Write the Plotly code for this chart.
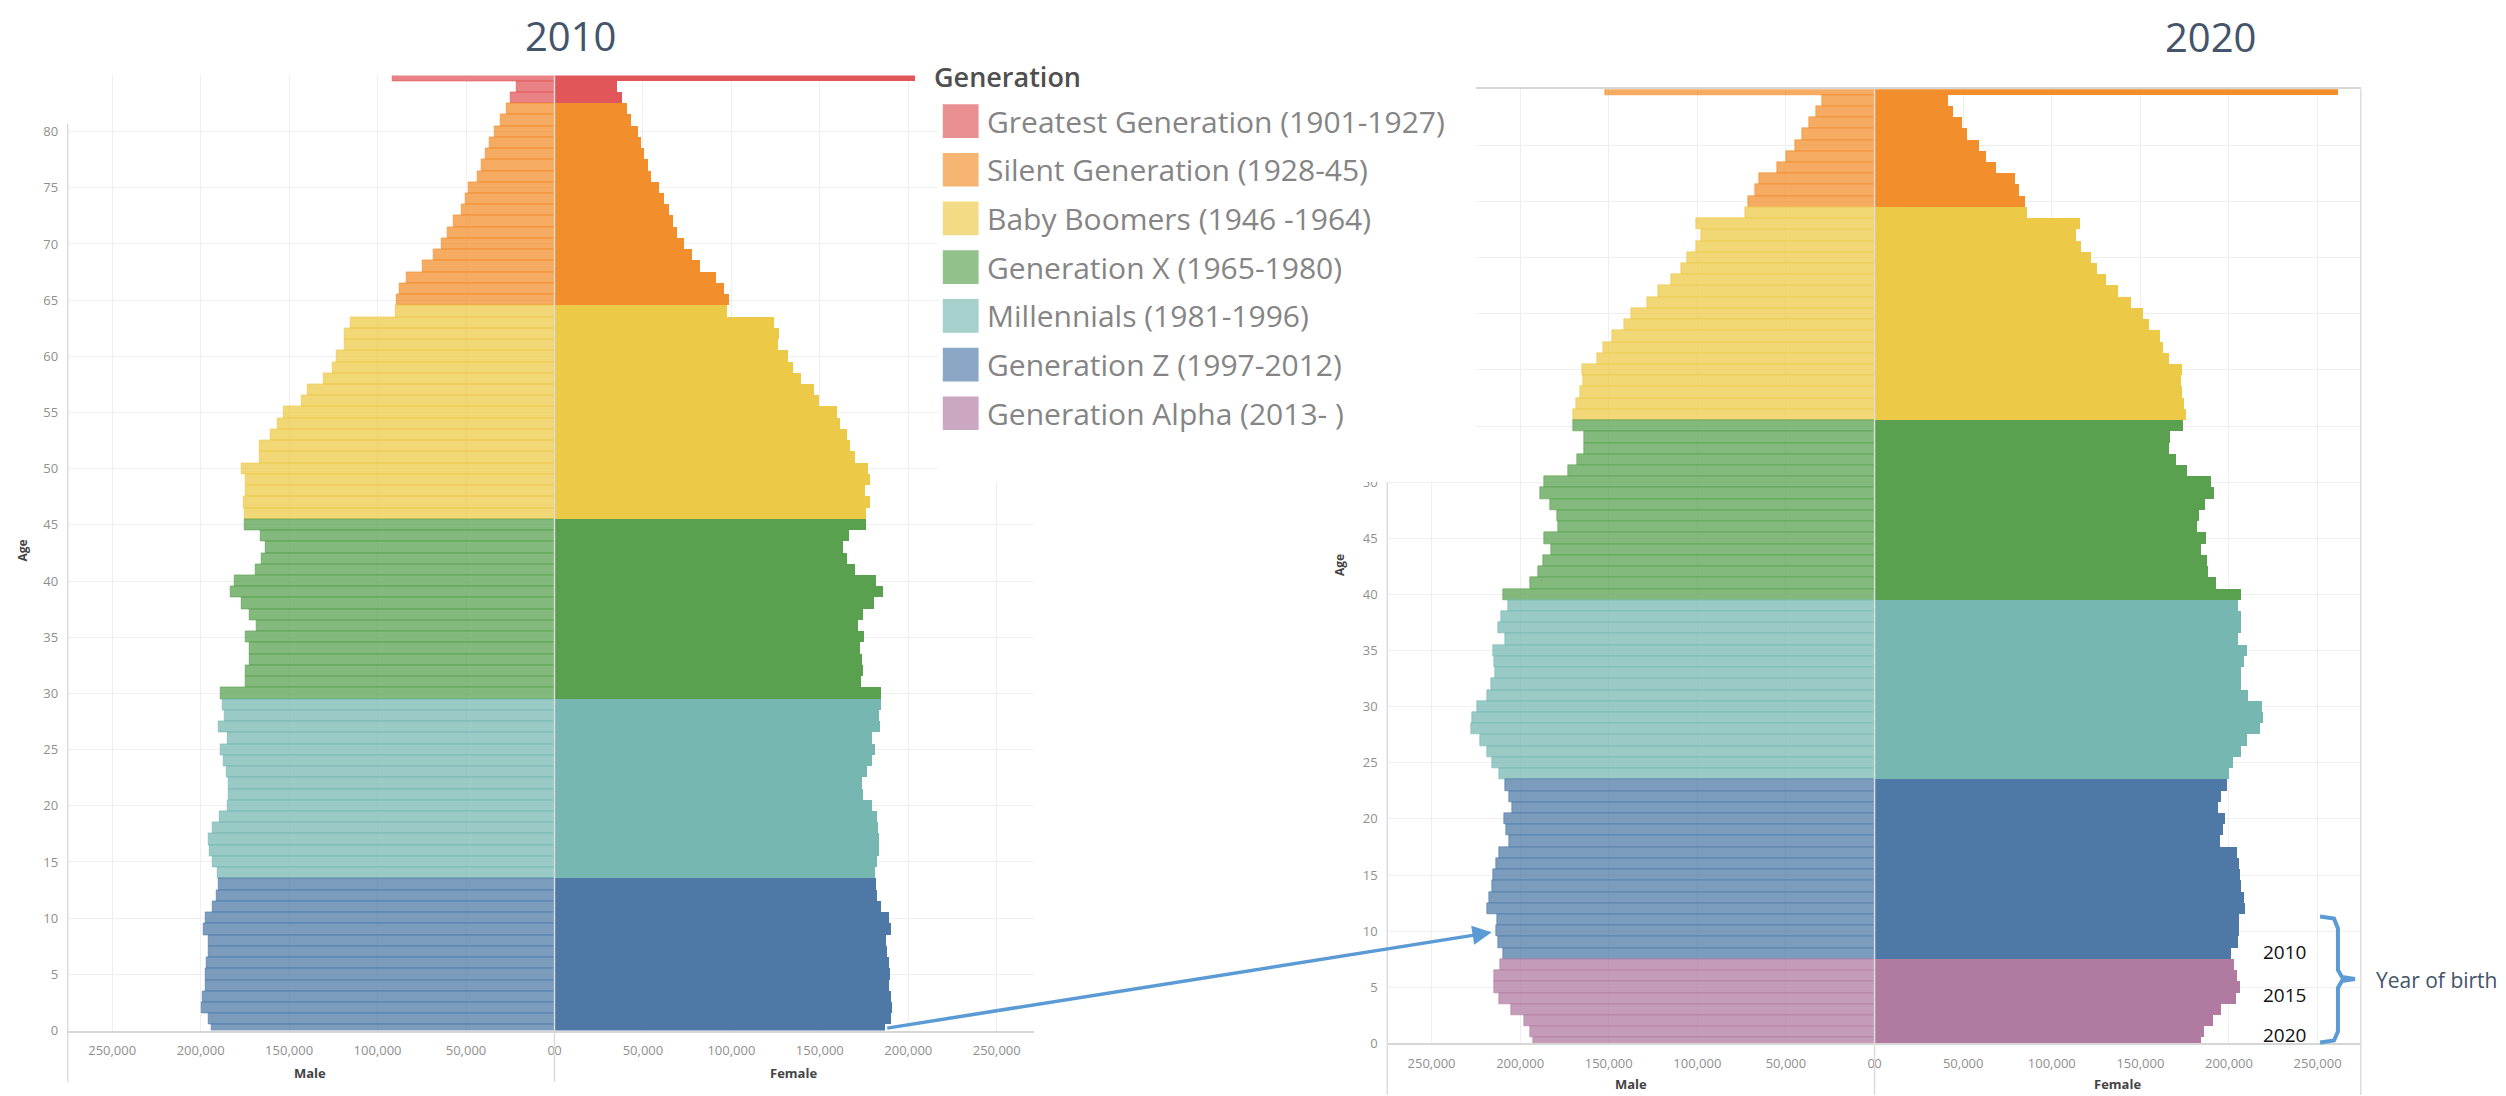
import plotly.graph_objects as go

W, H = 2506, 1096

# ---- data ----
AGES = list(range(0, 86))

MALE_2010 = [193700, 195200, 199300, 198900, 197000, 197400, 196700, 195200, 195600, 198200,
             197000, 193000, 191100, 190000, 190300, 193000, 194800, 195600, 193000, 189200,
             184800, 184400, 184400, 185500, 187000, 188500, 184800, 189600, 186600, 187400,
             188500, 174700, 174300, 172500, 172100, 174300, 168400, 172100, 176900, 182900,
             180700, 169100, 165400, 163200, 166100, 175100, 175100, 175800, 174300, 174700,
             176900, 166900, 166900, 160600, 156500, 153100, 142700, 139300, 130400, 125200,
             123300, 118500, 118500, 115100, 89800, 89400, 87500, 83400, 74500, 68500,
             63700, 60300, 57000, 52500, 50300, 48400, 43200, 41000, 39100, 36500,
             33900, 30200, 26800, 25000, 21600, 91300]
FEMALE_2010 = [187000, 190400, 191100, 190700, 189600, 190000, 189200, 188100, 187400, 190700,
               189200, 185100, 182500, 182200, 181400, 182500, 183600, 183600, 183300, 182500,
               179500, 174700, 174000, 176900, 179500, 181400, 179500, 184400, 184000, 185100,
               185100, 173600, 174700, 174000, 172800, 175100, 172100, 174700, 180700, 185900,
               182200, 170200, 165400, 163500, 166500, 176600, 176600, 178400, 175800, 178400,
               177700, 170200, 167600, 165800, 161700, 159800, 149700, 146800, 139700, 134900,
               132200, 126700, 127400, 124400, 97600, 98700, 96100, 91300, 82700, 78200,
               73400, 69700, 67100, 65200, 62200, 59600, 54800, 52900, 51000, 49200,
               47300, 43600, 41000, 38700, 35400, 203800]
MALE_2020 = [192500, 194300, 197700, 205000, 211900, 214500, 214500, 211000, 209300, 212300,
             213600, 212800, 218800, 217500, 215800, 214900, 213600, 211500, 205900, 208000,
             208900, 204600, 205900, 208500, 211500, 215800, 218800, 222700, 227800, 227000,
             224400, 218400, 216200, 214100, 214500, 214900, 208500, 212300, 210600, 206700,
             209300, 194300, 189900, 186900, 182600, 186500, 178700, 179200, 183100, 188700,
             186500, 173100, 167500, 163700, 163700, 170100, 170100, 168400, 165800, 164100,
             165000, 156300, 152900, 148200, 141300, 137400, 128400, 122300, 114600, 109000,
             105500, 100800, 97800, 100400, 73200, 71100, 67200, 65000, 55100, 50000,
             44800, 40900, 37000, 32700, 29300, 152000]
FEMALE_2020 = [183900, 185600, 190800, 195500, 203700, 205900, 204200, 202400, 200700, 204600,
               205400, 205400, 208900, 208500, 206300, 205900, 205400, 204200, 194700, 196400,
               197300, 193400, 195100, 198600, 199900, 202000, 206700, 209800, 217100, 219200,
               218400, 210600, 206300, 206700, 208000, 209800, 204600, 206700, 206700, 205000,
               206300, 192500, 187800, 187400, 183900, 186900, 181800, 182600, 186100, 191200,
               189500, 176200, 169700, 165800, 166300, 173600, 175300, 174400, 173100, 172700,
               173100, 165800, 162400, 160600, 154600, 151200, 144300, 137400, 130100, 125300,
               121900, 116300, 113300, 115400, 85700, 84900, 81400, 78800, 68500, 62900,
               58600, 52100, 49100, 43900, 41400, 261000]

GENERATIONS = ["Greatest Generation (1901-1927)", "Silent Generation (1928-45)",
               "Baby Boomers (1946 -1964)", "Generation X (1965-1980)",
               "Millennials (1981-1996)", "Generation Z (1997-2012)",
               "Generation Alpha (2013- )"]
GEN_FIRST_YEAR = [1901, 1928, 1946, 1965, 1981, 1997, 2013]
GEN_COLORS = ["#e15759", "#f28e2b", "#edc948", "#59a14f", "#76b7b2", "#4e79a7", "#b07aa1"]

X_TICKS = [0, 50000, 100000, 150000, 200000, 250000]
Y_TICKS = list(range(0, 85, 5))
BIRTH_YEAR_MARKS = ["2010", "2015", "2020"]

FONT = "Open Sans"
TITLE_COLOR = "#44546a"
ARROW_BLUE = "#5b9bd5"
LINE_GREY = "#dcdcdc"


def fx(p):
    return p / W


def fy(p):
    return 1 - p / H


def rgba(hex_color, a):
    h = hex_color.lstrip("#")
    r, g, b = int(h[0:2], 16), int(h[2:4], 16), int(h[4:6], 16)
    return f"rgba({r},{g},{b},{a})"


def generation_of(birth_year):
    idx = 0
    for i, start in enumerate(GEN_FIRST_YEAR):
        if birth_year >= start:
            idx = i
    return idx


fig = go.Figure()

# (census year, male values, female values, male axis, female axis, y axis)
panels = [
    (2010, MALE_2010, FEMALE_2010, "x", "x2", "y"),
    (2020, MALE_2020, FEMALE_2020, "x3", "x4", "y2"),
]

for year, male, female, xm, xf, ya in panels:
    for g, name in enumerate(GENERATIONS):
        idx = [i for i, a in enumerate(AGES) if generation_of(year - a) == g]
        if not idx:
            continue
        ages = [AGES[i] for i in idx]
        fig.add_trace(go.Bar(
            y=ages, x=[male[i] for i in idx], orientation="h", name=name,
            xaxis=xm, yaxis=ya, showlegend=False,
            marker=dict(color=rgba(GEN_COLORS[g], 0.74),
                        line=dict(color=rgba(GEN_COLORS[g], 0.6), width=1)),
            hovertemplate="Male, age %{y}: %{x:,}<extra>" + name + "</extra>",
        ))
        fig.add_trace(go.Bar(
            y=ages, x=[female[i] for i in idx], orientation="h", name=name,
            xaxis=xf, yaxis=ya, showlegend=False,
            marker=dict(color=GEN_COLORS[g], line=dict(width=0)),
            hovertemplate="Female, age %{y}: %{x:,}<extra>" + name + "</extra>",
        ))

tick_font = dict(family=FONT, size=13, color="#8f8f8f")
male_text = ["0\u00a0\u00a0"] + [f"{v:,}" for v in X_TICKS[1:]]
female_text = ["\u00a0\u00a00"] + [f"{v:,}" for v in X_TICKS[1:]]
# the 2020 age labels above 50 sit under the legend panel in the reference
age_text_2020 = [str(v) if v <= 50 else "" for v in Y_TICKS]


def x_axis(left, right, rng, anchor, ticktext):
    return dict(domain=[fx(left), fx(right)], range=rng, anchor=anchor,
                tickvals=X_TICKS, ticktext=ticktext, tickfont=tick_font,
                showgrid=True, gridcolor="#efefef", gridwidth=1, zeroline=False,
                showline=True, linecolor="#d6d6d6", linewidth=2,
                ticks="outside", ticklen=7, tickcolor="rgba(0,0,0,0)", fixedrange=True)


def y_axis(bottom, top, anchor, ticktext=None):
    return dict(domain=[fy(bottom), fy(top)], range=[0, 85], anchor=anchor,
                tickvals=Y_TICKS, ticktext=ticktext or [str(v) for v in Y_TICKS],
                tickfont=tick_font, showgrid=True, gridcolor="#efefef",
                zeroline=False, showline=False, ticks="outside", ticklen=6,
                tickcolor="rgba(0,0,0,0)", fixedrange=True)


fig.update_layout(
    width=W, height=H, margin=dict(l=0, r=0, t=0, b=0),
    paper_bgcolor="white", plot_bgcolor="white",
    barmode="overlay", bargap=0, showlegend=False,
    font=dict(family=FONT),
    xaxis=x_axis(53, 542.5, [275150, 0], "y", male_text),
    xaxis2=x_axis(542.5, 1024.5, [0, 270950], "y", female_text),
    xaxis3=x_axis(1380, 1870, [274970, 0], "y2", male_text),
    xaxis4=x_axis(1870, 2359, [0, 274400], "y2", female_text),
    yaxis=y_axis(1031, 68, "x"),
    yaxis2=y_axis(1044, 82, "x3", age_text_2020),
)
fig.update_xaxes(mirror=True, selector=dict(anchor="y2"))

shapes = []


def vline(xp, y0p, y1p):
    shapes.append(dict(type="line", xref="paper", yref="paper",
                       x0=fx(xp), x1=fx(xp), y0=fy(y0p), y1=fy(y1p),
                       line=dict(color=LINE_GREY, width=1.5), layer="above"))


vline(53, 117, 1083)
vline(542.5, 68, 1083)
vline(1380, 82, 1096)
vline(1870, 82, 1096)
vline(2359, 82, 1096)

# white panel behind the legend (covers part of the 2020 axis)
shapes.append(dict(type="rect", xref="paper", yref="paper",
                   x0=fx(928), x1=fx(1469), y0=fy(478), y1=fy(0),
                   fillcolor="white", line=dict(width=0), layer="above"))

annotations = []

# legend
annotations.append(dict(text="Generation", xref="paper", yref="paper", x=fx(922), y=fy(69),
                        xanchor="left", yanchor="middle", showarrow=False,
                        font=dict(family=FONT, size=27, color="#4f4f4f", weight=600)))
for i, name in enumerate(GENERATIONS):
    cy = 114 + i * 49.1
    shapes.append(dict(type="rect", xref="paper", yref="paper",
                       x0=fx(933), x1=fx(969), y0=fy(cy + 17), y1=fy(cy - 17),
                       fillcolor=rgba(GEN_COLORS[i], 0.66), line=dict(width=0), layer="above"))
    annotations.append(dict(text=name, xref="paper", yref="paper", x=fx(975), y=fy(cy),
                            xanchor="left", yanchor="middle", showarrow=False,
                            font=dict(family=FONT, size=30, color="#858585")))

# titles
for label, cx, cy in [("2010", 559, 28), ("2020", 2208, 29)]:
    annotations.append(dict(text=label, xref="paper", yref="paper", x=fx(cx), y=fy(cy),
                            xanchor="center", yanchor="middle", showarrow=False,
                            font=dict(family=FONT, size=40, color=TITLE_COLOR)))

# axis titles
for label, cx, cy in [("Male", 297, 1074), ("Female", 783, 1074),
                      ("Male", 1625, 1085), ("Female", 2114, 1085)]:
    annotations.append(dict(text=label, xref="paper", yref="paper", x=fx(cx), y=fy(cy),
                            xanchor="center", yanchor="middle", showarrow=False,
                            font=dict(family=FONT, size=13, color="#444444", weight=700)))
for cx, cy in [(8, 547), (1332, 562)]:
    annotations.append(dict(text="Age", xref="paper", yref="paper", x=fx(cx), y=fy(cy),
                            xanchor="center", yanchor="middle", showarrow=False, textangle=-90,
                            font=dict(family=FONT, size=12, color="#444444", weight=700)))

# year of birth bracket
for label, cy in zip(BIRTH_YEAR_MARKS, [952, 995, 1036]):
    annotations.append(dict(text=label, xref="paper", yref="paper", x=fx(2282), y=fy(cy),
                            xanchor="center", yanchor="middle", showarrow=False,
                            font=dict(family=FONT, size=19, color="#111111")))
annotations.append(dict(text="Year of birth", xref="paper", yref="paper", x=fx(2372), y=fy(980),
                        xanchor="left", yanchor="middle", showarrow=False,
                        font=dict(family=FONT, size=21, color=TITLE_COLOR)))

brace = [(2318, 916), (2332, 918), (2336, 928), (2336, 970), (2340, 977), (2353, 979),
         (2340, 981), (2336, 988), (2336, 1032), (2332, 1041), (2318, 1043)]
path = "M " + " L ".join(f"{fx(a):.5f},{fy(b):.5f}" for a, b in brace)
shapes.append(dict(type="path", xref="paper", yref="paper", path=path,
                   line=dict(color=ARROW_BLUE, width=4), layer="above"))

# arrow from the 2010 newborns to the same cohort in 2020
annotations.append(dict(text="", xref="paper", yref="paper", x=fx(1485), y=fy(932),
                        axref="pixel", ayref="pixel", ax=879 - 1485, ay=1028 - 932,
                        showarrow=True, arrowhead=2, arrowsize=1.1, arrowwidth=3.5,
                        arrowcolor=ARROW_BLUE, standoff=0))

fig.update_layout(shapes=shapes, annotations=annotations)

fig.write_html("out.html")
